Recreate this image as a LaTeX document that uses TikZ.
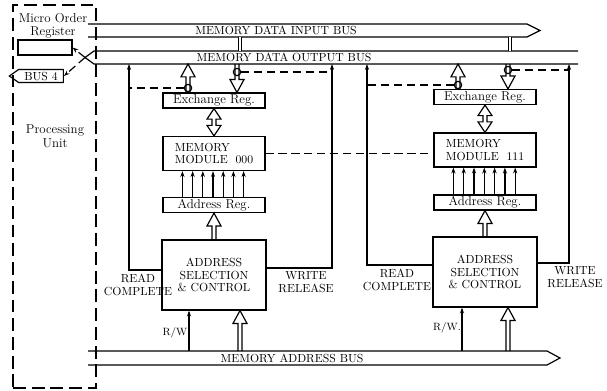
\documentclass[tikz,border=0pt]{standalone}
\usetikzlibrary{arrows.meta,calc,positioning,shapes.symbols}

\begin{document}
\begin{tikzpicture}[x=0.03cm,y=-0.03cm, line width=1pt,
    captxt/.style={font=\fontsize{10}{11}\selectfont},
    lowtxt/.style={font=\fontsize{11}{11.5}\selectfont},
    regbox/.style={draw, minimum width=3.06cm, minimum height=0.45cm, inner sep=0pt, lowtxt},
    membox/.style={draw, minimum width=3.06cm, minimum height=1.02cm, align=left, captxt},
    ascbox/.style={draw, minimum width=3.12cm, minimum height=2.1cm, align=center, captxt},
    pubox/.style={draw, dash pattern=on 11pt off 5pt, minimum width=2.49cm, minimum height=11.49cm},
    lbl/.style={align=center, inner sep=1pt, captxt},
    bus/.style={line join=miter},
    stub/.style={double, double distance=2.2pt},
    sig/.style={-{Stealth[length=5pt,width=3.5pt]}},
    ctl/.style={dash pattern=on 7pt off 4pt},
    gate/.style={draw, circle, minimum size=2.2mm, inner sep=0pt},
    fatarrow/.style={to path={
        ($(\tikztotarget)!11pt!(\tikztostart)$) coordinate (fatb)
        ($(\tikztostart)!1.7pt!-90:(\tikztotarget)$) -- ($(fatb)!1.7pt!-90:(\tikztotarget)$)
        -- ($(fatb)!6pt!-90:(\tikztotarget)$) -- (\tikztotarget)
        -- ($(fatb)!6pt!90:(\tikztotarget)$) -- ($(fatb)!1.7pt!90:(\tikztotarget)$)
        -- ($(\tikztostart)!1.7pt!90:(\tikztotarget)$)}},
    fatboth/.style={to path={
        ($(\tikztotarget)!9pt!(\tikztostart)$) coordinate (fatb)
        ($(\tikztostart)!9pt!(\tikztotarget)$) coordinate (fata)
        (\tikztostart) -- ($(fata)!6pt!-90:(\tikztotarget)$) -- ($(fata)!1.7pt!-90:(\tikztotarget)$)
        -- ($(fatb)!1.7pt!-90:(\tikztotarget)$) -- ($(fatb)!6pt!-90:(\tikztotarget)$) -- (\tikztotarget)
        -- ($(fatb)!6pt!90:(\tikztotarget)$) -- ($(fatb)!1.7pt!90:(\tikztotarget)$)
        -- ($(fata)!1.7pt!90:(\tikztotarget)$) -- ($(fata)!6pt!90:(\tikztotarget)$) -- cycle}}
]
\useasboundingbox (0,0) rectangle (607,391);

\node[pubox] (pu) at (54.5,196.5) {};
\node[lbl, lowtxt] (morl) at (53,26) {Micro Order\\Register};
\node[draw, minimum width=1.62cm, minimum height=0.45cm] (mor) at (45,47.5) {};
\node[draw, signal, signal to=west, signal pointer angle=70, minimum width=1.62cm, minimum height=0.39cm, inner sep=1pt, captxt] (bus4) at (41,76) {BUS 4};
\node[lbl, lowtxt] (pul) at (55,136) {Processing\\Unit};

\node[regbox] (exA) at (214,100.5) {Exchange Reg.};
\node[membox] (memA) at (214,153.5) {MEMORY\\MODULE\ \ 000};
\node[regbox] (adrA) at (214,205) {Address Reg.};
\node[ascbox] (ascA) at (214,275) {ADDRESS\\SELECTION\\\& CONTROL};

\node[regbox] (exB) at (485,97) {Exchange Reg.};
\node[membox] (memB) at (485,150) {MEMORY\\MODULE\ \ 111};
\node[regbox] (adrB) at (485,202.5) {Address Reg.};
\node[ascbox] (ascB) at (485,272) {ADDRESS\\SELECTION\\\& CONTROL};

\draw[bus] (88,24) -- (527,24) -- (540,30.5) -- (527,37) -- (88,37);
\draw[bus] (578,51) -- (94,51) -- (85,57.5) -- (94,64) -- (578,64);
\draw[bus] (88,351) -- (547,351) -- (560,358) -- (547,365) -- (88,365);
\node[captxt] (dinl) at (276,30.5) {MEMORY DATA INPUT BUS};
\node[captxt] (doutl) at (284,57.5) {MEMORY DATA OUTPUT BUS};
\node[captxt] (madl) at (292,358) {MEMORY ADDRESS BUS};

\coordinate (obtip) at (85,57.5);
\coordinate (rcA) at (129,64);
\coordinate (wrA) at (332,64);
\coordinate (rcB) at (367,64);
\coordinate (wrB) at (569,64);
\coordinate (obA1) at (188,64);
\coordinate (obA2) at (237,64);
\coordinate (obB1) at (458,64);
\coordinate (obB2) at (508,64);
\coordinate (diA) at (240,37);
\coordinate (doA) at (240,51);
\coordinate (diB) at (510,37);
\coordinate (doB) at (510,51);
\coordinate (maA) at (240,351);
\coordinate (maB) at (508,351);
\coordinate (rwA) at (189,351);
\coordinate (rwB) at (462,351);

\node[gate] (gA1) at (188,88) {};
\node[gate] (gA2) at (237,72) {};
\node[gate] (gB1) at (458,85) {};
\node[gate] (gB2) at (508,70) {};

\draw[ctl, -{Stealth[length=5pt,width=3.5pt]}] (obtip) -- (mor.east);
\draw[ctl, -{Stealth[length=5pt,width=3.5pt]}] (obtip) -- (bus4.east);

\draw[stub] (diA) -- (doA);
\draw[stub] (diB) -- (doB);
\draw[fatarrow] (exA.north -| obA1) to (obA1);
\draw[fatarrow] (obA2) to (exA.north -| obA2);
\draw[fatarrow] (exB.north -| obB1) to (obB1);
\draw[fatarrow] (obB2) to (exB.north -| obB2);
\draw[fatboth] (exA.south) to (memA.north);
\draw[fatboth] (exB.south) to (memB.north);
\draw[fatarrow] (ascA.north) to (adrA.south);
\draw[fatarrow] (ascB.north) to (adrB.south);
\draw[fatarrow] (maA) to (maA |- ascA.south);
\draw[fatarrow] (maB) to (maB |- ascB.south);
\draw[sig] (rwA) -- (rwA |- ascA.south);
\draw[sig] (rwB) -- (rwB |- ascB.south);

\foreach \k in {0,...,6} {
  \draw[sig] ($(adrA.north west)+(20+10.2*\k,0)$) -- ($(memA.south west)+(20+10.2*\k,0)$);
  \draw[sig] ($(adrB.north west)+(20+10.3*\k,0)$) -- ($(memB.south west)+(20+10.3*\k,0)$);
}

\draw[sig] ($(ascA.west)+(0,-5)$) -| (rcA);
\draw[sig] ($(ascA.east)+(0,-7)$) -| (wrA);
\draw[sig] ($(ascB.west)+(0,-7)$) -| (rcB);
\draw[sig] ($(ascB.east)+(0,-9)$) -| (wrB);

\draw[ctl] (gA1.west) -- (gA1.west -| rcA);
\draw[ctl] (gA2.east) -- (gA2.east -| wrA);
\draw[ctl] (gB1.west) -- (gB1.west -| rcB);
\draw[ctl] (gB2.east) -- (gB2.east -| wrB);
\draw[ctl] (memA.east) -- (memA.east -| memB.west);

\node[lbl] (rcAl) at (138,285) {READ\\COMPLETE};
\node[lbl] (wrAl) at (306,282) {WRITE\\RELEASE};
\node[lbl] (rcBl) at (397,280) {READ\\COMPLETE};
\node[lbl] (wrBl) at (575,277) {WRITE\\RELEASE};
\node[lbl, font=\fontsize{9}{10}\selectfont] (rwAl) at (175,333) {R/W};
\node[lbl, font=\fontsize{9}{10}\selectfont] (rwBl) at (447,328) {R/W.};
\end{tikzpicture}
\end{document}
